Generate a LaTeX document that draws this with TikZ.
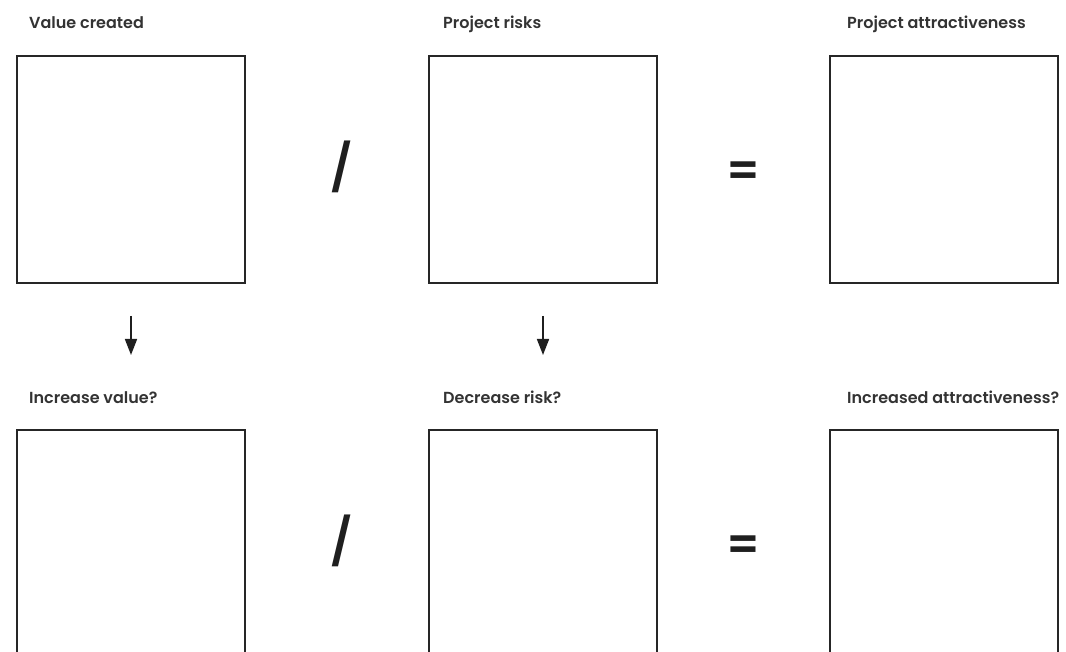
\documentclass[tikz,border=0pt]{standalone}
\usepackage{fontspec}
\setmainfont{Poppins}
\newfontfamily\labfont{Poppins SemiBold}
\usetikzlibrary{arrows.meta}
\begin{document}
\begin{tikzpicture}[x=1pt,y=-1pt,
  box/.style={draw=black!85,line width=2pt},
  lab/.style={anchor=base west,inner sep=0pt,font=\labfont\fontsize{16}{19}\selectfont,text=black!80},
  op/.style={inner sep=0pt,font=\labfont\fontsize{46}{55}\selectfont,text=black!88},
  arr/.style={draw=black!88,line width=1.7pt,-{Triangle[width=12pt,length=16pt]}}]
\useasboundingbox (0,0) rectangle (1066,652);
\clip (0,0) rectangle (1066,652);
% labels
\node[lab] (l1) at (29,29) {Value created};
\node[lab] (l2) at (443,29) {Project risks};
\node[lab] (l3) at (847,29) {Project attractiveness};
\node[lab] (l4) at (29,403) {Increase value?};
\node[lab] (l5) at (443,403) {Decrease risk?};
\node[lab] (l6) at (847,403) {Increased attractiveness?};
% top boxes
\draw[box] (17,56) rectangle (245,283);
\draw[box] (429,56) rectangle (657,283);
\draw[box] (830,56) rectangle (1058,283);
% bottom boxes (cut at bottom)
\draw[box] (17,670) rectangle (245,430);
\draw[box] (429,670) rectangle (657,430);
\draw[box] (830,670) rectangle (1058,430);
% operators
\node[op] (s1) at (342,167) {/};
\node[op] (e1) at (743,174) {=};
\node[op] (s2) at (342,541) {/};
\node[op] (e2) at (743,548) {=};
% arrows
\coordinate (a1s) at (131,316);
\coordinate (a1e) at (131,355);
\coordinate (a2s) at (543,316);
\coordinate (a2e) at (543,355);
\draw[arr] (a1s) -- (a1e);
\draw[arr] (a2s) -- (a2e);
\end{tikzpicture}
\end{document}
